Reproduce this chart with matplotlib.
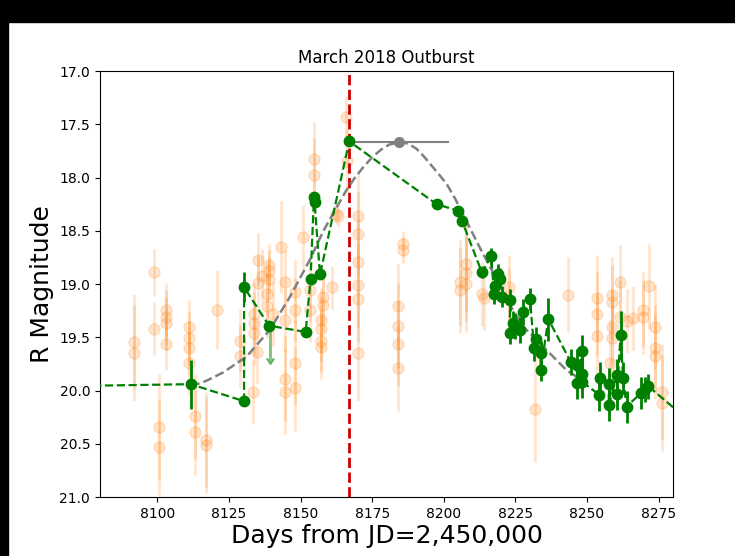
"""
March 2018 outburst light curve: R magnitude vs days from JD 2,450,000.
"""

import matplotlib
matplotlib.use("Agg")
import matplotlib.pyplot as plt
from matplotlib.patches import Rectangle

# background photometry (faint orange points)
bg_days = [8091.9, 8091.9, 8098.8, 8098.8, 8100.7, 8100.7, 8103.0, 8103.0, 8103.0, 8103.0,
           8111.1, 8111.1, 8111.1, 8111.1, 8113.2, 8113.2, 8116.9, 8116.9, 8120.9, 8128.9,
           8128.9, 8133.3, 8133.8, 8133.8, 8133.8, 8135.0, 8135.0, 8136.4, 8138.9, 8138.9,
           8138.9, 8138.2, 8138.2, 8134.7, 8140.3, 8143.1, 8144.6, 8144.6, 8144.6, 8144.6,
           8148.1, 8148.1, 8148.1, 8148.1, 8150.7, 8153.3, 8153.3, 8154.7, 8154.7, 8157.0,
           8157.0, 8157.0, 8157.0, 8157.9, 8157.9, 8160.9, 8162.4, 8163.0, 8165.9, 8166.2,
           8170.2, 8170.2, 8170.2, 8170.2, 8170.2, 8170.2, 8183.9, 8183.9, 8183.9, 8183.9,
           8185.6, 8185.6, 8205.7, 8205.7, 8207.8, 8207.8, 8207.8, 8213.2, 8214.0, 8222.9,
           8222.9, 8231.8, 8243.5, 8253.6, 8253.6, 8253.6, 8258.0, 8258.6, 8258.6, 8258.6,
           8258.6, 8261.5, 8261.5, 8263.8, 8265.9, 8269.6, 8269.6, 8271.7, 8273.7, 8273.7,
           8273.7, 8276.1, 8276.1]
bg_mags = [19.54, 19.65, 18.89, 19.42, 20.34, 20.53, 19.24, 19.31, 19.37, 19.56,
           19.40, 19.51, 19.60, 19.74, 20.24, 20.39, 20.46, 20.51, 19.24, 19.53,
           19.68, 20.01, 19.28, 19.37, 19.46, 18.77, 18.99, 18.92, 18.82, 18.88,
           18.95, 19.09, 19.21, 19.64, 19.28, 18.65, 18.98, 19.34, 19.89, 20.01,
           19.07, 19.24, 19.74, 19.98, 18.56, 19.06, 19.24, 17.83, 17.98, 19.34,
           19.42, 19.53, 19.59, 19.12, 19.20, 19.03, 18.34, 18.36, 17.43, 17.84,
           18.36, 18.53, 18.79, 19.01, 19.14, 19.65, 19.21, 19.39, 19.56, 19.79,
           18.62, 18.68, 18.98, 19.06, 18.81, 18.90, 19.00, 19.09, 19.13, 19.03,
           19.15, 20.17, 19.10, 19.13, 19.28, 19.49, 19.74, 19.10, 19.17, 19.40,
           19.51, 18.98, 19.31, 19.35, 19.32, 19.24, 19.31, 19.02, 19.40, 19.60,
           19.68, 20.01, 20.12]
bg_err = [0.45, 0.45, 0.22, 0.25, 0.50, 0.45, 0.25, 0.25, 0.25, 0.25,
          0.25, 0.25, 0.25, 0.30, 0.40, 0.40, 0.45, 0.45, 0.37, 0.30,
          0.30, 0.30, 0.30, 0.30, 0.30, 0.25, 0.25, 0.25, 0.20, 0.20,
          0.20, 0.30, 0.30, 0.30, 0.30, 0.43, 0.30, 0.30, 0.40, 0.40,
          0.30, 0.30, 0.40, 0.40, 0.30, 0.30, 0.30, 0.35, 0.35, 0.30,
          0.30, 0.30, 0.30, 0.25, 0.25, 0.20, 0.10, 0.10, 0.20, 0.30,
          0.40, 0.40, 0.40, 0.40, 0.40, 0.45, 0.40, 0.40, 0.40, 0.40,
          0.12, 0.12, 0.40, 0.40, 0.45, 0.45, 0.45, 0.30, 0.30, 0.30,
          0.30, 0.50, 0.35, 0.40, 0.40, 0.40, 0.40, 0.35, 0.35, 0.35,
          0.35, 0.35, 0.35, 0.30, 0.30, 0.35, 0.35, 0.40, 0.40, 0.40,
          0.40, 0.45, 0.45]

# main light curve (green)
lc_days = [8040.0, 8111.7, 8130.3, 8130.3, 8139.0, 8151.8, 8153.5, 8154.7, 8154.9, 8156.8,
           8167.0, 8197.5, 8204.8, 8206.4, 8213.3, 8216.5, 8217.6, 8217.9, 8218.8, 8219.6,
           8220.2, 8223.1, 8223.1, 8224.3, 8224.9, 8226.6, 8227.6, 8230.1, 8231.5, 8232.1,
           8233.8, 8233.8, 8236.5, 8244.3, 8246.4, 8246.4, 8248.1, 8248.1, 8248.4, 8254.3,
           8254.5, 8257.6, 8257.6, 8260.5, 8260.5, 8261.7, 8262.6, 8263.8, 8269.0, 8270.2,
           8271.4, 8285.0]
lc_mags = [19.97, 19.94, 20.10, 19.03, 19.39, 19.45, 18.95, 18.18, 18.23, 18.91,
           17.66, 18.25, 18.31, 18.41, 18.89, 18.74, 19.09, 19.02, 18.91, 18.95,
           19.12, 19.15, 19.46, 19.37, 19.40, 19.43, 19.26, 19.14, 19.60, 19.52,
           19.65, 19.81, 19.33, 19.73, 19.76, 19.93, 19.63, 19.84, 19.92, 20.04,
           19.88, 19.94, 20.14, 19.85, 20.03, 19.48, 19.88, 20.15, 20.02, 19.99,
           19.96, 20.27]
lc_err = [0.0, 0.23, 0.0, 0.14, 0.0, 0.0, 0.0, 0.03, 0.03, 0.0,
          0.0, 0.0, 0.0, 0.0, 0.05, 0.08, 0.10, 0.10, 0.10, 0.10,
          0.10, 0.10, 0.10, 0.12, 0.12, 0.12, 0.12, 0.10, 0.12, 0.12,
          0.12, 0.10, 0.20, 0.12, 0.15, 0.15, 0.15, 0.15, 0.15, 0.15,
          0.15, 0.15, 0.15, 0.15, 0.15, 0.23, 0.15, 0.15, 0.15, 0.12,
          0.12, 0.0]

# limit
lim_day = [8139.3]
lim_mag = [19.39]
lim_len = [0.30]

# model fit curve
fit_days = [8111.7, 8117.0, 8123.0, 8131.2, 8139.3, 8146.3, 8153.3, 8158.0, 8162.6, 8166.0,
            8169.0, 8172.0, 8175.0, 8178.0, 8181.0, 8184.4, 8187.5, 8190.5, 8193.0, 8195.5,
            8198.0, 8201.0, 8204.0, 8207.0, 8210.0, 8213.0, 8216.0, 8219.0, 8222.0, 8227.8,
            8235.9, 8242.9, 8248.1]
fit_mags = [19.96, 19.91, 19.83, 19.68, 19.43, 19.12, 18.77, 18.50, 18.28, 18.12,
            18.00, 17.90, 17.81, 17.74, 17.69, 17.67, 17.68, 17.73, 17.80, 17.88,
            17.96, 18.06, 18.20, 18.36, 18.52, 18.68, 18.83, 18.98, 19.15, 19.40,
            19.62, 19.81, 19.90]

# fitted peak
peak_day = [8184.4]
peak_mag = [17.67]
peak_xerr = [17.5]

outburst_day = 8167.0

fig = plt.figure(figsize=(7.35, 5.56), dpi=100)
ax = fig.add_axes([0.136, 0.106, 0.7796, 0.7662])
ax.set_xlim(8080, 8280)
ax.set_ylim(21.0, 17.0)

ax.errorbar(bg_days, bg_mags, yerr=bg_err, fmt='o', color='C1', alpha=0.2,
            ms=8, elinewidth=2, zorder=1)
ax.axvline(outburst_day, color='#cc0000', linestyle='--', linewidth=2, zorder=2)
ax.plot(fit_days, fit_mags, '--', color='gray', linewidth=1.8, zorder=3)
ax.errorbar(peak_day, peak_mag, xerr=peak_xerr, fmt='o', color='gray', ms=7,
            elinewidth=1.5, zorder=3)
ax.errorbar(lim_day, lim_mag, yerr=lim_len, lolims=True, fmt='none', color='green',
            alpha=0.5, elinewidth=2, zorder=4)
ax.errorbar(lc_days, lc_mags, yerr=lc_err, fmt='o--', color='green', ms=7.5,
            linewidth=1.6, elinewidth=2, zorder=5)

ax.set_title('March 2018 Outburst', fontsize=12)
ax.set_xlabel('Days from JD=2,450,000', fontsize=18, labelpad=2)
ax.set_ylabel('R Magnitude', fontsize=18)
ax.set_xticks([8100, 8125, 8150, 8175, 8200, 8225, 8250, 8275])
ax.set_yticks([17.0, 17.5, 18.0, 18.5, 19.0, 19.5, 20.0, 20.5, 21.0])

# screenshot frame on top and left
fig.patches.append(Rectangle((0, 1 - 22 / 556), 1, 22 / 556, transform=fig.transFigure,
                             color='black', zorder=10))
fig.patches.append(Rectangle((0, 0), 8 / 735, 1, transform=fig.transFigure,
                             color='black', zorder=10))

fig.savefig('out.png', dpi=100, facecolor='white')
plt.close(fig)
